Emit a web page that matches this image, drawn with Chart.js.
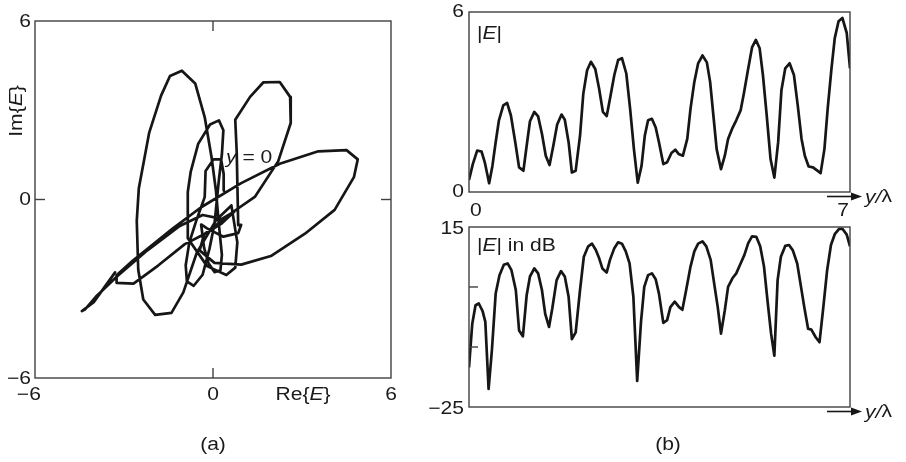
<!DOCTYPE html>
<html>
<head>
<meta charset="utf-8">
<script src="https://cdn.jsdelivr.net/npm/chart.js@4.4.0/dist/chart.umd.min.js"></script>
<style>
  html, body { margin: 0; padding: 0; background: #ffffff; }
  #wrap { position: relative; width: 906px; height: 462px; overflow: hidden; }
  #wrap canvas { position: absolute; left: 0; top: 0; }
</style>
</head>
<body>
<div id="wrap">
  <canvas id="ca" width="906" height="462"></canvas>
  <canvas id="cb1" width="906" height="462"></canvas>
  <canvas id="cb2" width="906" height="462"></canvas>
</div>
<script>
// ---------------- data ----------------
// panel (a): complex field trajectory, Re{E} and Im{E}
const reE = [0.37, 0.36, 0.27, 0.02, -0.25, -0.28, -0.55, -0.80, -0.92, -0.88,
  -0.65, -0.35, -0.12, 0.05, 0.20, 0.30, 0.35, 0.20, -0.10, -0.50,
  -0.75, -0.85, -0.85, -0.20, 0.45, 0.75, 0.82, 0.62, 0.10, -0.55,
  -1.00, -1.40, -1.95, -2.35, -2.52, -2.57, -2.50, -2.15, -1.75, -1.45,
  -1.05, -0.60, -0.28, -0.05, 0.10, 0.20, 0.30, 0.25, 0.05, -0.15,
  -0.30, -0.40, -0.20, 0.35, 0.85, 0.95, 0.85, 0.80, 0.75, 1.25,
  1.70, 2.25, 2.60, 2.62, 2.20, 1.42, 0.60, -0.30, -0.45, 0.05,
  0.95, 1.95, 3.10, 4.10, 4.75, 4.88, 4.50, 3.55, 2.25, 0.95,
  -0.40, -1.35, -2.70, -3.25, -3.25, -2.68, -1.85, -0.95, -0.30, 0.30,
  0.72, 0.30, -0.35, -1.12, -2.20, -3.22, -3.95, -4.32, -4.42, -4.02,
  -3.30];
const imE = [0.30, 0.86, 1.36, 1.35, 0.96, 0.08, -0.67, -1.45, -2.21, -2.75,
  -2.90, -2.53, -1.66, -0.82, 0.68, 1.52, 2.33, 2.66, 2.52, 1.87,
  0.94, 0.25, -1.30, -2.24, -2.54, -2.29, -1.44, -0.20, -0.70, -1.80,
  -3.12, -3.81, -3.88, -3.36, -2.36, -0.72, 0.38, 2.25, 3.49, 4.15,
  4.33, 3.90, 2.77, 1.43, 0.29, -0.85, -1.86, -2.38, -2.44, -2.14,
  -1.63, -0.84, -0.97, -1.25, -1.13, -0.85, -0.86, 1.58, 2.68, 3.45,
  3.94, 3.95, 3.45, 2.57, 1.29, 0.10, -0.47, -1.17, -1.71, -2.13,
  -2.19, -1.90, -1.15, -0.35, 0.75, 1.35, 1.66, 1.62, 1.20, 0.55,
  -0.26, -0.97, -2.05, -2.55, -2.80, -2.83, -2.22, -1.50, -1.17, -0.80,
  -0.40, -0.65, -0.52, -0.89, -1.70, -2.57, -3.27, -3.70, -3.75, -3.45,
  -2.45];
const aTickValues = [-6, 0, 6];
const aInnerTicks = [0];

// panel (b) top: |E| versus y/lambda
const yLambda = [0.00, 0.07, 0.15, 0.23, 0.29, 0.37, 0.43, 0.49, 0.55, 0.63,
  0.70, 0.77, 0.85, 0.92, 1.00, 1.06, 1.12, 1.20, 1.27, 1.34,
  1.41, 1.48, 1.55, 1.62, 1.70, 1.76, 1.83, 1.89, 1.96, 2.04,
  2.10, 2.17, 2.24, 2.32, 2.39, 2.46, 2.53, 2.59, 2.67, 2.74,
  2.81, 2.89, 2.96, 3.03, 3.10, 3.17, 3.23, 3.29, 3.36, 3.43,
  3.49, 3.57, 3.64, 3.72, 3.79, 3.85, 3.93, 4.01, 4.07, 4.14,
  4.21, 4.29, 4.37, 4.43, 4.49, 4.55, 4.63, 4.70, 4.76, 4.84,
  4.91, 4.99, 5.05, 5.13, 5.20, 5.27, 5.34, 5.40, 5.47, 5.54,
  5.61, 5.68, 5.74, 5.81, 5.89, 5.97, 6.04, 6.11, 6.17, 6.24,
  6.32, 6.40, 6.46, 6.53, 6.59, 6.66, 6.72, 6.79, 6.86, 6.94,
  7.00];
const absE = [0.40, 0.93, 1.38, 1.35, 0.99, 0.29, 0.87, 1.66, 2.39, 2.89,
  2.97, 2.55, 1.66, 0.82, 0.71, 1.55, 2.36, 2.67, 2.52, 1.94,
  1.21, 0.90, 1.55, 2.25, 2.58, 2.41, 1.66, 0.65, 0.71, 1.88,
  3.28, 4.06, 4.34, 4.10, 3.45, 2.67, 2.53, 3.11, 3.90, 4.40,
  4.46, 3.95, 2.78, 1.43, 0.31, 0.87, 1.88, 2.39, 2.44, 2.15,
  1.66, 0.93, 0.99, 1.30, 1.41, 1.27, 1.21, 1.77, 2.78, 3.67,
  4.29, 4.55, 4.32, 3.67, 2.55, 1.43, 0.76, 1.21, 1.77, 2.13,
  2.39, 2.72, 3.28, 4.12, 4.82, 5.07, 4.79, 3.90, 2.55, 1.10,
  0.48, 1.66, 3.39, 4.12, 4.29, 3.90, 2.89, 1.77, 1.21, 0.85,
  0.82, 0.71, 0.63, 1.43, 2.78, 4.12, 5.13, 5.69, 5.80, 5.30,
  4.12];
const bTopYTicks = [0, 6];
const bXTicks = [0, 7];

// panel (b) bottom: |E| in dB versus y/lambda
const yLambdaDb = [0.00, 0.06, 0.12, 0.18, 0.25, 0.30, 0.36, 0.42, 0.49, 0.56,
  0.64, 0.71, 0.78, 0.86, 0.92, 0.99, 1.06, 1.12, 1.20, 1.27,
  1.34, 1.40, 1.47, 1.53, 1.61, 1.69, 1.76, 1.83, 1.89, 1.96,
  2.04, 2.11, 2.19, 2.26, 2.33, 2.39, 2.45, 2.53, 2.59, 2.67,
  2.74, 2.81, 2.88, 2.95, 3.02, 3.09, 3.16, 3.22, 3.29, 3.36,
  3.43, 3.49, 3.57, 3.64, 3.70, 3.78, 3.86, 3.92, 3.99, 4.07,
  4.14, 4.21, 4.29, 4.36, 4.44, 4.50, 4.57, 4.63, 4.70, 4.76,
  4.84, 4.91, 4.98, 5.06, 5.13, 5.20, 5.28, 5.35, 5.42, 5.49,
  5.55, 5.61, 5.67, 5.73, 5.81, 5.88, 5.95, 6.03, 6.10, 6.16,
  6.23, 6.29, 6.37, 6.44, 6.51, 6.58, 6.65, 6.72, 6.80, 6.86,
  6.94, 7.00];
const absEdB = [-16.2, -6.5, -2.4, -2.0, -3.7, -6.1, -21.0, -12.5, 0.2, 4.3,
  6.6, 6.9, 5.4, 1.0, -8.0, -9.3, -0.1, 4.0, 5.8, 4.7,
  1.0, -4.3, -7.2, -3.1, 3.2, 5.2, 4.0, -0.5, -9.9, -8.4,
  1.0, 8.4, 10.7, 11.3, 9.9, 8.1, 5.8, 4.9, 7.7, 10.3,
  11.6, 11.3, 9.6, 6.9, -0.5, -19.2, -6.1, 1.7, 4.3, 4.7,
  3.4, 0.2, -6.3, -5.7, -2.8, -1.6, -2.8, -3.4, 1.0, 6.2,
  9.6, 11.3, 11.8, 10.7, 7.7, 2.8, -2.8, -8.7, -3.5, 1.7,
  3.6, 4.7, 6.6, 8.8, 11.4, 12.9, 12.8, 10.7, 6.2, -2.0,
  -8.7, -13.6, 3.2, 8.4, 10.8, 11.0, 9.8, 6.9, 1.7, -2.8,
  -7.6, -7.8, -9.5, -10.6, -2.8, 5.4, 11.0, 13.4, 14.6, 14.6,
  13.3, 10.7];
const dBLabeledTicks = [15, -25];
const dBInnerTicks = [1.67, -11.67];

// ---------------- drawing helpers ----------------
const FONT = '"Liberation Sans", Arial, Helvetica, sans-serif';
const INK = '#161616';
const TXT = '#1a1a1a';
const FRAME = '#404040';
const FS = 18;     // font size
const SX = 1.17;   // glyph widening along the text direction
const LW = 2.7;    // curve width

function fmt(v) { return v < 0 ? '\u2212' + Math.abs(v) : String(v); }

function richText(ctx, parts, x, y, align) {
  ctx.save();
  ctx.fillStyle = TXT;
  ctx.textBaseline = 'middle';
  ctx.textAlign = 'left';
  const fonts = parts.map(p => (p[1] ? 'italic ' : '') + FS + 'px ' + FONT);
  const widths = parts.map((p, i) => { ctx.font = fonts[i]; return ctx.measureText(p[0]).width * SX; });
  const total = widths.reduce((a, b) => a + b, 0);
  let cx = align === 'center' ? x - total / 2 : (align === 'right' ? x - total : x);
  parts.forEach((p, i) => {
    ctx.save();
    ctx.translate(cx, y);
    ctx.scale(SX, 1);
    ctx.font = fonts[i];
    ctx.fillText(p[0], 0, 0);
    ctx.restore();
    cx += widths[i];
  });
  ctx.restore();
  return total;
}
function textWidth(ctx, s) {
  ctx.save(); ctx.font = FS + 'px ' + FONT; const w = ctx.measureText(s).width * SX; ctx.restore(); return w;
}
function seg(ctx, x1, y1, x2, y2, w, c) {
  ctx.save(); ctx.strokeStyle = c; ctx.lineWidth = w; ctx.beginPath();
  ctx.moveTo(x1, y1); ctx.lineTo(x2, y2); ctx.stroke(); ctx.restore();
}
function frame(chart) {
  const { ctx, chartArea: a } = chart;
  ctx.save(); ctx.strokeStyle = FRAME; ctx.lineWidth = 1.4;
  ctx.strokeRect(a.left, a.top, a.right - a.left, a.bottom - a.top);
  ctx.restore();
}
function arrow(ctx, x1, x2, y) {
  seg(ctx, x1, y, x2 - 8, y, 1.6, INK);
  ctx.save(); ctx.fillStyle = INK; ctx.beginPath();
  ctx.moveTo(x2, y); ctx.lineTo(x2 - 11, y - 4); ctx.lineTo(x2 - 11, y + 4); ctx.closePath(); ctx.fill();
  ctx.restore();
  richText(ctx, [['y', true], ['/', true], ['\u03bb', false]], x2 + 3, y + 1, 'left');
}

Chart.defaults.font.family = FONT;

const commonOpts = {
  responsive: false,
  animation: false,
  devicePixelRatio: 1,
  events: [],
  plugins: { legend: { display: false }, tooltip: { enabled: false }, title: { display: false } }
};

// ---------------- panel (a) ----------------
const decorA = {
  id: 'decorA',
  afterDatasetsDraw(chart) {
    const { ctx, chartArea: a, scales: { x, y } } = chart;
    frame(chart);
    const L = 10;
    aInnerTicks.forEach(v => {
      const px = x.getPixelForValue(v), py = y.getPixelForValue(v);
      seg(ctx, px, a.top, px, a.top + L, 1.4, FRAME);
      seg(ctx, px, a.bottom, px, a.bottom - L, 1.4, FRAME);
      seg(ctx, a.left, py, a.left + L, py, 1.4, FRAME);
      seg(ctx, a.right, py, a.right - L, py, 1.4, FRAME);
    });
    // tick labels
    aTickValues.forEach(v => {
      const lab = fmt(v);
      const shift = v < 0 ? textWidth(ctx, '\u2212') / 2 : 0;
      richText(ctx, [[lab, false]], x.getPixelForValue(v) - shift, a.bottom + 17, 'center');
      richText(ctx, [[lab, false]], a.left - 4, y.getPixelForValue(v) + 1, 'right');
    });
    // axis titles
    richText(ctx, [['Re{', false], ['E', true], ['}', false]], 303, a.bottom + 17, 'center');
    ctx.save(); ctx.translate(17, 111); ctx.rotate(-Math.PI / 2);
    richText(ctx, [['Im{', false], ['E', true], ['}', false]], 0, 0, 'center');
    ctx.restore();
    richText(ctx, [['y', true], [' = 0', false]], x.getPixelForValue(0.44), y.getPixelForValue(1.39), 'left');
    richText(ctx, [['(a)', false]], 213, 445, 'center');
  }
};

new Chart(document.getElementById('ca'), {
  type: 'scatter',
  data: { datasets: [{
    data: reE.map((r, i) => ({ x: r, y: imE[i] })),
    showLine: true, borderColor: INK, borderWidth: LW, pointRadius: 0,
    tension: 0, fill: false, borderJoinStyle: 'round', borderCapStyle: 'round'
  }] },
  options: Object.assign({}, commonOpts, {
    layout: { padding: { left: 35, top: 21, right: 515, bottom: 84 } },
    scales: {
      x: { type: 'linear', min: -6, max: 6, display: false },
      y: { type: 'linear', min: -6, max: 6, display: false }
    }
  }),
  plugins: [decorA]
});

// ---------------- panel (b) top ----------------
const decorB1 = {
  id: 'decorB1',
  afterDatasetsDraw(chart) {
    const { ctx, chartArea: a, scales: { x, y } } = chart;
    frame(chart);
    bTopYTicks.forEach(v => richText(ctx, [[fmt(v), false]], a.left - 5, y.getPixelForValue(v) + 0.5, 'right'));
    bXTicks.forEach((v, i) => {
      const al = i === 0 ? 'left' : 'right';
      const off = i === 0 ? 1 : -1;
      richText(ctx, [[fmt(v), false]], x.getPixelForValue(v) + off, a.bottom + 19, al);
    });
    richText(ctx, [['|', false], ['E', true], ['|', false]], a.left + 8, a.top + 22, 'left');
    arrow(ctx, 827, 862, a.bottom + 4.5);
  }
};

new Chart(document.getElementById('cb1'), {
  type: 'line',
  data: { datasets: [{
    data: yLambda.map((v, i) => ({ x: v, y: absE[i] })),
    borderColor: INK, borderWidth: LW, pointRadius: 0, tension: 0, fill: false,
    borderJoinStyle: 'round'
  }] },
  options: Object.assign({}, commonOpts, {
    layout: { padding: { left: 469, top: 12, right: 56, bottom: 270 } },
    scales: {
      x: { type: 'linear', min: 0, max: 7, display: false },
      y: { type: 'linear', min: 0, max: 6, display: false }
    }
  }),
  plugins: [decorB1]
});

// ---------------- panel (b) bottom ----------------
const decorB2 = {
  id: 'decorB2',
  afterDatasetsDraw(chart) {
    const { ctx, chartArea: a, scales: { x, y } } = chart;
    frame(chart);
    dBInnerTicks.forEach(v => {
      const py = y.getPixelForValue(v);
      seg(ctx, a.left, py, a.left + 9, py, 1.4, FRAME);
    });
    dBLabeledTicks.forEach(v => richText(ctx, [[fmt(v), false]], a.left - 5, y.getPixelForValue(v) + 2, 'right'));
    richText(ctx, [['|', false], ['E', true], ['| in dB', false]], a.left + 8, a.top + 19, 'left');
    arrow(ctx, 827, 862, a.bottom + 4.5);
    richText(ctx, [['(b)', false]], 668, 445, 'center');
  }
};

new Chart(document.getElementById('cb2'), {
  type: 'line',
  data: { datasets: [{
    data: yLambdaDb.map((v, i) => ({ x: v, y: absEdB[i] })),
    borderColor: INK, borderWidth: LW, pointRadius: 0, tension: 0, fill: false,
    borderJoinStyle: 'round'
  }] },
  options: Object.assign({}, commonOpts, {
    layout: { padding: { left: 469, top: 227, right: 56, bottom: 55 } },
    scales: {
      x: { type: 'linear', min: 0, max: 7, display: false },
      y: { type: 'linear', min: -25, max: 15, display: false }
    }
  }),
  plugins: [decorB2]
});
</script>
</body>
</html>
